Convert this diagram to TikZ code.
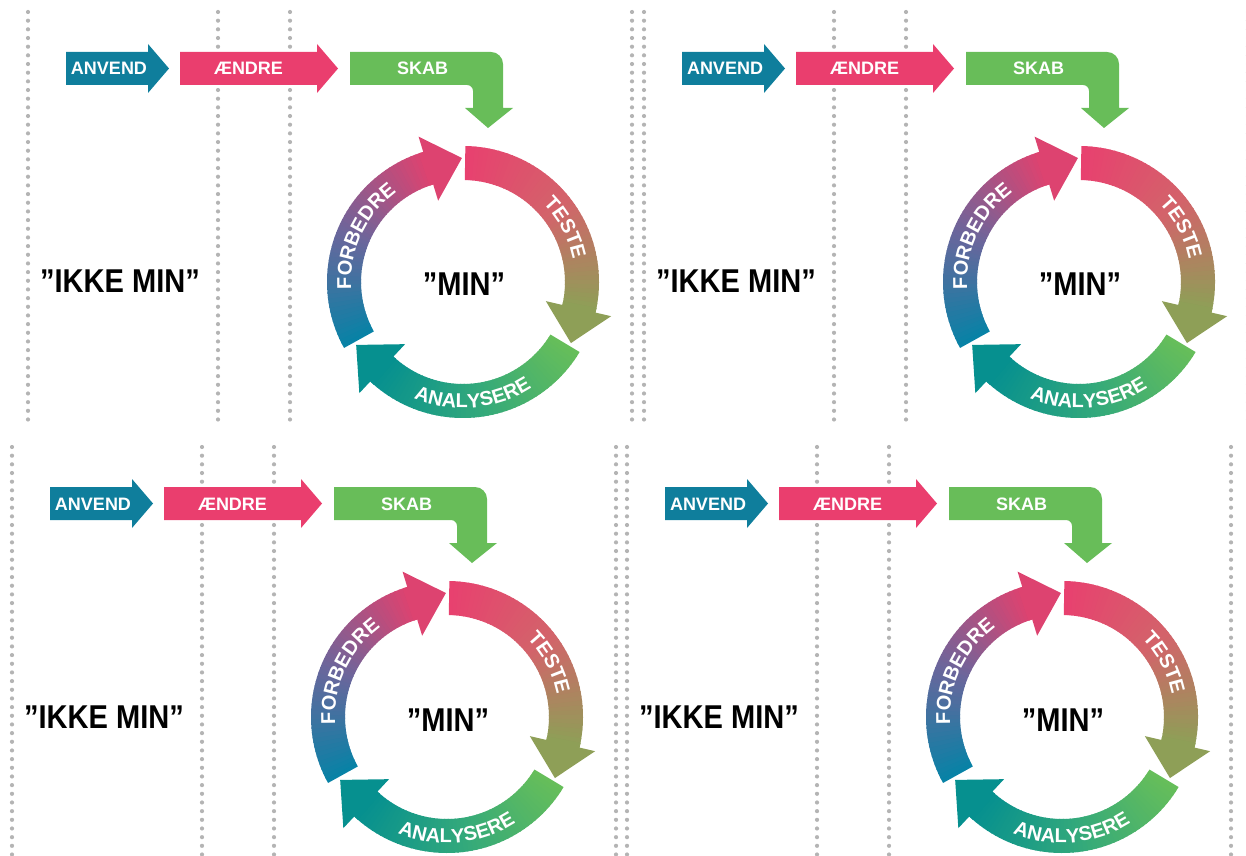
\documentclass[tikz,border=0pt]{standalone}
\usepackage{fontspec}
\setmainfont{Liberation Sans}
\newfontfamily\condfont{Liberation Sans}[FakeStretch=0.88]
\usetikzlibrary{decorations.text}

\definecolor{anvendblue}{HTML}{0F7E9C}
\definecolor{aendrepink}{HTML}{EA3E6E}
\definecolor{skabgreen}{HTML}{68BD59}
\definecolor{testeA}{HTML}{E8416F}
\definecolor{testeB}{HTML}{D3636A}
\definecolor{testeC}{HTML}{8E9F57}
\definecolor{analyA}{HTML}{66BE5A}
\definecolor{analyB}{HTML}{33A97B}
\definecolor{analyC}{HTML}{06908F}
\definecolor{forbA}{HTML}{0882A6}
\definecolor{forbB}{HTML}{6A669C}
\definecolor{forbC}{HTML}{DD4370}
\definecolor{guidegray}{HTML}{B4B4B4}

\newcommand\arrowfont{\bfseries\fontsize{18}{18}\selectfont}
\newcommand\ringfont{\bfseries\fontsize{20}{20}\selectfont}

% one arrow of the ring: #1 start angle, #2 #3 #4 colours along it
\newcommand\ringpart[4]{%
    \foreach \a in {0,2,...,100}{%
        \pgfmathsetmacro\e{min(\a+2.6,102)}%
        \pgfmathtruncatemacro\cx{100-2*min(\a,50)}%
        \pgfmathtruncatemacro\cy{100-2*max(\a-50,0)}%
        \fill[#2!\cx!#3!\cy!#4] ({#1-\a}:136) arc[start angle={#1-\a}, end angle={#1-\e}, radius=136]
            -- ({#1-\e}:102) arc[start angle={#1-\e}, end angle={#1-\a}, radius=102] -- cycle;
    }%
    \fill[#4] ({#1-100}:136) -- ({#1-102}:136) -- ({#1-102}:152) -- ({#1-118.5}:124)
        -- ({#1-102}:85) -- ({#1-102}:102) -- ({#1-100}:102) -- cycle;
}

\begin{document}
\begin{tikzpicture}[
    x=1pt, y=1pt,
    guide/.style={draw=guidegray, line width=4.2pt, line cap=round, dash pattern=on 0pt off 8.67pt},
    arrow label/.style={text=white, font=\arrowfont, anchor=base, inner sep=0pt},
    big label/.style={font=\condfont\bfseries\fontsize{33}{33}\selectfont, anchor=base, inner sep=0pt},
    ring text/.style={
        decorate,
        decoration={text along path, text={|\ringfont|#1}, text align=center, text color=white}
    },
    panel/.pic={
        \foreach \gx in {28,218,290,632}
            \draw[guide] (\gx,843) -- (\gx,433);
        % the three steps
        \fill[anvendblue] (66,803) -- (148,803) -- (148,811) -- (169,786.5) -- (148,762) -- (148,770) -- (66,770) -- cycle;
        \fill[aendrepink] (180,803) -- (317,803) -- (317,811) -- (338,786.5) -- (317,762) -- (317,770) -- (180,770) -- cycle;
        \fill[skabgreen] (350,803) -- (491,803) arc[start angle=90, end angle=0, radius=12]
            -- (503,747) -- (513,747) -- (488,727) -- (465,747) -- (473,747)
            -- (473,764) arc[start angle=0, end angle=90, radius=6] -- (350,770) -- cycle;
        \node[arrow label] (-anvend) at (109,780) {ANVEND};
        \node[arrow label] (-aendre) at (248.5,780) {ÆNDRE};
        \node[arrow label] (-skab) at (422.5,780) {SKAB};
        \node[big label] (-ikke) at (120,562) {”IKKE MIN”};
        % the cycle
        \begin{scope}[shift={(463,573)}]
            \ringpart{89}{testeA}{testeB}{testeC}
            \ringpart{-31}{analyA}{analyB}{analyC}
            \ringpart{-151}{forbA}{forbB}{forbC}
            \path[ring text={TESTE}] (60:112) arc[start angle=60, end angle=-4, radius=112];
            \path[ring text={ANALYSERE}] (-130:126) arc[start angle=-130, end angle=-40, radius=126];
            \path[ring text={FORBEDRE}] (200:112) arc[start angle=200, end angle=110, radius=112];
        \end{scope}
        \node[big label] (-min) at (464,559) {”MIN”};
    }
]
\clip (0,0) rectangle (1246,855);
\pic (tl) at (0,0) {panel};
\pic (tr) at (616,0) {panel};
\pic (bl) at (-16,-435) {panel};
\pic (br) at (599,-435) {panel};
\end{tikzpicture}
\end{document}
